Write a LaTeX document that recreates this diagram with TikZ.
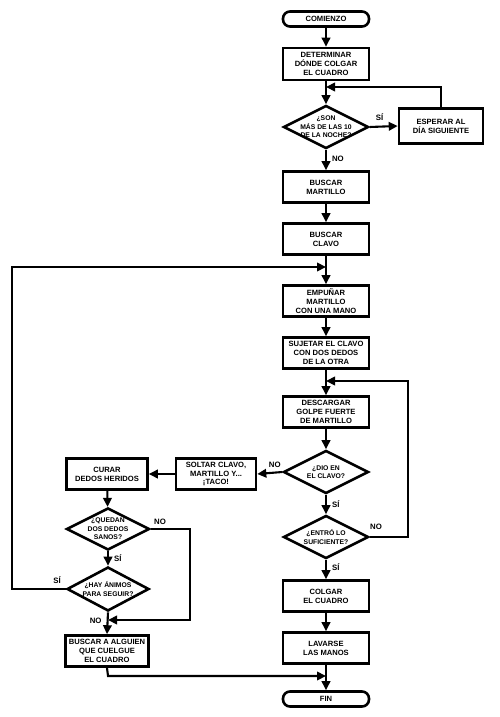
\documentclass[tikz,border=0pt]{standalone}
\usepackage{fontspec}
\setmainfont{Liberation Sans}
\usetikzlibrary{shapes.geometric,arrows.meta}
\begin{document}
\begin{tikzpicture}[x=1pt,y=-1pt,
  every node/.style={font=\bfseries\fontsize{7.6}{8.9}\selectfont, inner sep=0pt, align=center},
  box/.style={draw, line width=2.6pt, minimum width=86pt, minimum height=31pt},
  term/.style={draw, line width=2.6pt, rounded corners=7pt, minimum width=86pt, minimum height=15pt},
  dec/.style={draw, diamond, line width=2.6pt, minimum width=85pt, minimum height=43pt},
  dtxt/.style={font=\bfseries\fontsize{6.8}{8.4}\selectfont},
  lbl/.style={font=\bfseries\fontsize{7.8}{9}\selectfont},
  conn/.style={line width=2.1pt, -{Triangle[length=9pt,width=8.5pt]}},
  line/.style={line width=2.1pt}]
\useasboundingbox (0,0) rectangle (500,717);
% main column
\node[term] (start) at (326,19) {COMIENZO};
\node[box, minimum height=32pt] (det) at (326,64) {DETERMINAR\\DÓNDE COLGAR\\EL CUADRO};
\node[dec] (d1) at (326,127) {};
\node[dtxt] at (d1) {¿SON\\MÁS DE LAS 10\\DE LA NOCHE?};
\node[box, minimum width=84pt, minimum height=35pt] (esp) at (441,126) {ESPERAR AL\\DÍA SIGUIENTE};
\node[box] (bmart) at (326,187) {BUSCAR\\MARTILLO};
\node[box] (bclavo) at (326,239) {BUSCAR\\CLAVO};
\node[box] (empu) at (326,301) {EMPUÑAR\\MARTILLO\\CON UNA MANO};
\node[box] (suj) at (326,353) {SUJETAR EL CLAVO\\CON DOS DEDOS\\DE LA OTRA};
\node[box] (desc) at (326,412) {DESCARGAR\\GOLPE FUERTE\\DE MARTILLO};
\node[dec] (d2) at (326,472) {};
\node[dtxt] at (d2) {¿DIO EN\\EL CLAVO?};
\node[dec] (d3) at (326,537) {};
\node[dtxt] at (d3) {¿ENTRÓ LO\\SUFICIENTE?};
\node[box] (colgar) at (326,596) {COLGAR\\EL CUADRO};
\node[box] (lavar) at (326,648) {LAVARSE\\LAS MANOS};
\node[term] (fin) at (326,699) {FIN};
% left column
\node[box, minimum width=80pt] (soltar) at (216,474) {SOLTAR CLAVO,\\MARTILLO Y...\\¡TACO!};
\node[box, minimum width=81pt] (curar) at (107,474) {CURAR\\DEDOS HERIDOS};
\node[dec, minimum width=83pt, minimum height=42pt] (d4) at (108,529) {};
\node[dtxt] at (d4) {¿QUEDAN\\DOS DEDOS\\SANOS?};
\node[dec, minimum width=82pt, minimum height=44pt] (d5) at (108,589) {};
\node[dtxt] at (d5) {¿HAY ÁNIMOS\\PARA SEGUIR?};
\node[box, minimum width=83pt] (alg) at (107,651) {BUSCAR A ALGUIEN\\QUE CUELGUE\\EL CUADRO};
% coordinates
\coordinate (j1) at (326,87);
\coordinate (j2) at (326,267);
\coordinate (j3) at (326,381);
\coordinate (j4) at (108,620);
\coordinate (j5) at (326,676);
% connectors
\draw[conn] (start) -- (det);
\draw[conn] (det) -- (d1);
\draw[conn] (esp.north) |- (j1);
\draw[conn] (d1.east) -- (esp.west) node[lbl, pos=0.35, above=5pt] {SÍ};
\draw[conn] (d1.south) -- (bmart.north) node[lbl, pos=0.45, right=5pt] {NO};
\draw[conn] (bmart) -- (bclavo);
\draw[conn] (bclavo) -- (empu);
\draw[conn] (d5.west) -- (12,589) -- (12,267) -- (j2);
\draw[conn] (empu) -- (suj);
\draw[conn] (suj) -- (desc);
\draw[conn] (d3.east) -- (408,537) -- (408,381) -- (j3);
\draw[conn] (desc) -- (d2);
\draw[conn] (d2.west) -- (soltar.east) node[lbl, pos=0.3, above=4pt] {NO};
\draw[conn] (soltar) -- (curar);
\draw[conn] (curar) -- (d4);
\draw[conn] (d4.south) -- (d5.north) node[lbl, pos=0.5, right=5pt] {SÍ};
\draw[conn] (d4.east) -- (190,529) -- (190,620) -- (j4);
\node[lbl] at (160,522) {NO};
\node[lbl] at (57,580) {SÍ};
\draw[conn] (d5.south) -- (alg.north) node[lbl, pos=0.4, left=5pt] {NO};
\draw[conn] (alg.south) -- (108,676) -- (j5);
\draw[conn] (d2.south) -- (d3.north) node[lbl, pos=0.5, right=5pt] {SÍ};
\node[lbl] at (376,527) {NO};
\draw[conn] (d3.south) -- (colgar.north) node[lbl, pos=0.4, right=5pt] {SÍ};
\draw[conn] (colgar) -- (lavar);
\draw[conn] (lavar) -- (fin);
\end{tikzpicture}
\end{document}
